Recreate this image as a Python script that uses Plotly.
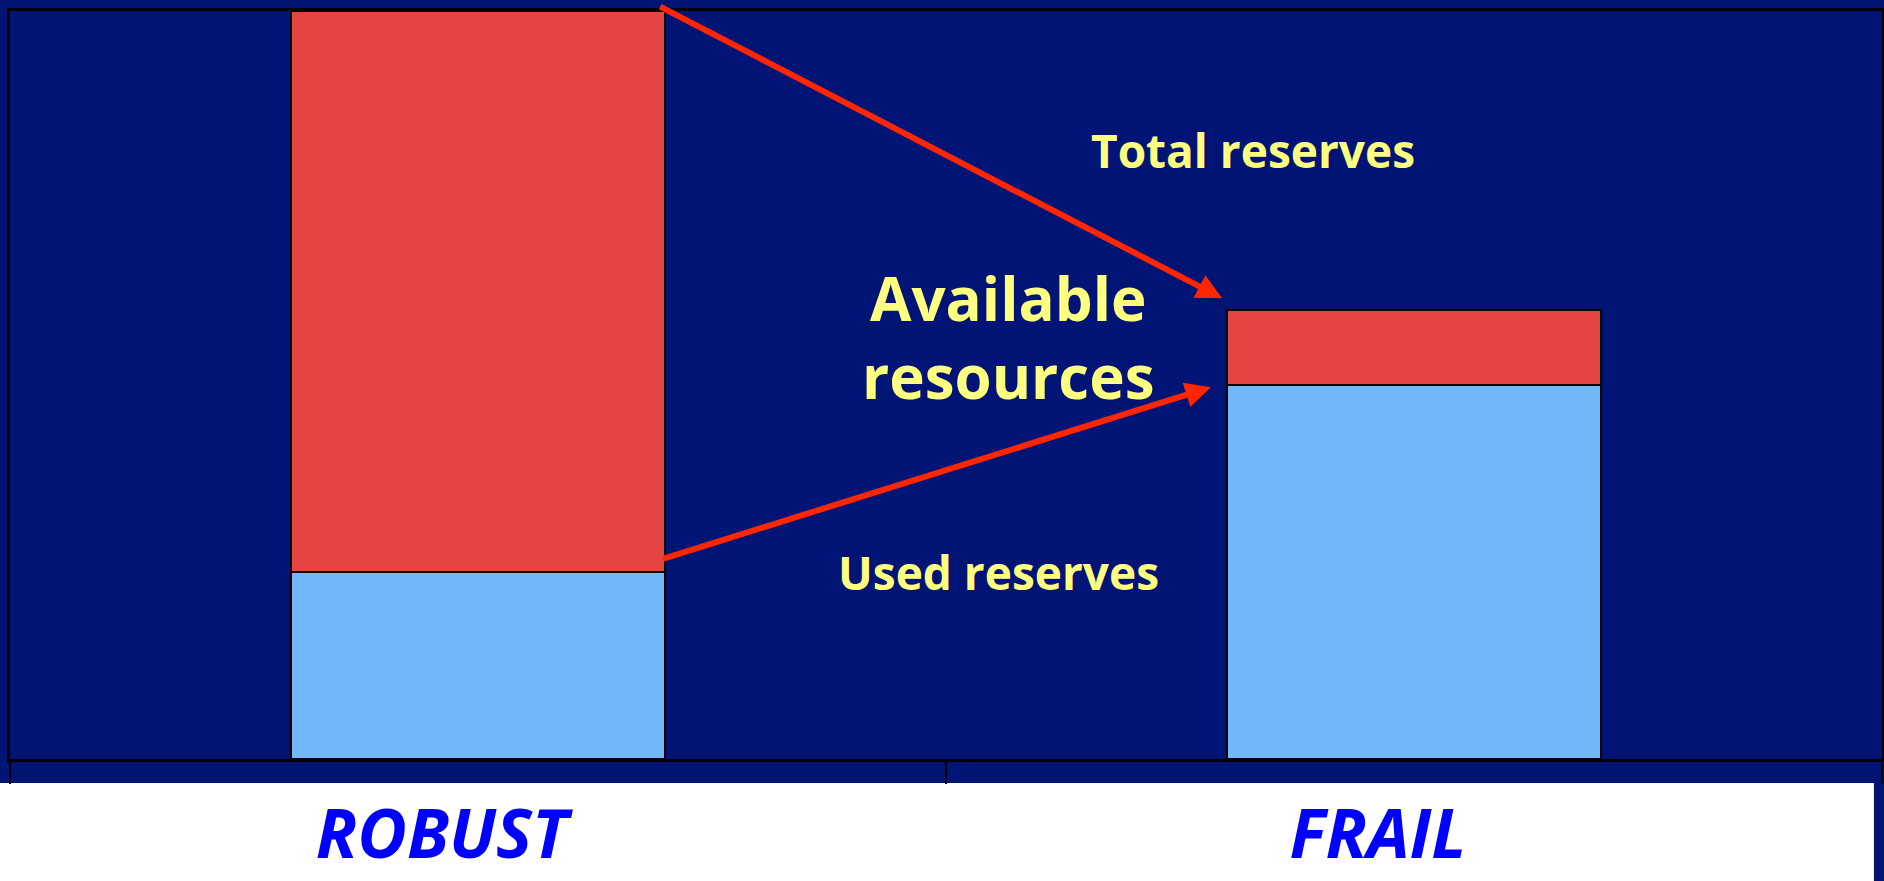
import plotly.graph_objects as go

# ---- data ----
categories = ["ROBUST", "FRAIL"]
used_reserves = [25, 50]
available_resources = [75, 10]
total_reserves = [u + a for u, a in zip(used_reserves, available_resources)]

NAVY = "#001476"
RED_BAR = "#E54542"
BLUE_BAR = "#70B8F8"
YELLOW = "#FFFF80"
ARROW = "#FF2600"
BARGAP = 0.6
half_w = (1 - BARGAP) / 2

fig = go.Figure()
fig.add_bar(x=categories, y=used_reserves, name="Used reserves",
            marker=dict(color=BLUE_BAR, line=dict(color="black", width=2)))
fig.add_bar(x=categories, y=available_resources, name="Available resources",
            marker=dict(color=RED_BAR, line=dict(color="black", width=2)))

fig.update_layout(
    width=1884, height=881,
    barmode="stack", bargap=BARGAP,
    showlegend=False,
    paper_bgcolor=NAVY, plot_bgcolor=NAVY,
    margin=dict(l=10, r=2, t=11, b=122),
    xaxis=dict(
        type="category", automargin=False,
        showline=True, linecolor="black", linewidth=3, mirror=True,
        ticks="outside", tickson="boundaries", ticklen=22, tickcolor="black", tickwidth=1.5,
        showgrid=False,
        tickfont=dict(family="Open Sans", size=68, color="#0000FF", weight="bold", style="italic"),
        ticklabelshift=-36, ticklabelstandoff=14,
    ),
    yaxis=dict(
        range=[0, 100], automargin=False,
        showline=True, linecolor="black", linewidth=3, mirror=True,
        showticklabels=False, showgrid=False, zeroline=False, ticks="",
    ),
)

# white band below the axis strip
fig.add_shape(type="rect", xref="paper", yref="paper",
              x0=-0.01, x1=0.9957, y0=-0.2, y1=-0.0321,
              fillcolor="white", line=dict(width=0), layer="below")

txt_font = dict(family="Open Sans", color=YELLOW, weight="bold")
fig.add_annotation(text="Total reserves", xref="paper", yref="paper", x=0.664, y=0.858,
                   showarrow=False, font=dict(size=46, **txt_font))
fig.add_annotation(text="Available<br>resources", xref="paper", yref="paper", x=0.533, y=0.564,
                   showarrow=False, font=dict(size=60, **txt_font))
fig.add_annotation(text="Used reserves", xref="paper", yref="paper", x=0.528, y=0.206,
                   showarrow=False, font=dict(size=46, **txt_font))

# arrows from ROBUST bar to FRAIL bar
arrow_style = dict(showarrow=True, arrowhead=2, arrowsize=0.85, arrowwidth=6, arrowcolor=ARROW,
                   xref="x", yref="y", axref="x", ayref="y", text="", standoff=0)
fig.add_annotation(x=1 - half_w - 0.005, y=total_reserves[1] + 1.6,
                   ax=0 + half_w - 0.007, ay=total_reserves[0] + 0.7, **arrow_style)
fig.add_annotation(x=1 - half_w - 0.017, y=used_reserves[1] - 0.3,
                   ax=0 + half_w - 0.004, ay=used_reserves[0] + 1.7, **arrow_style)

fig.write_html("out.html")
